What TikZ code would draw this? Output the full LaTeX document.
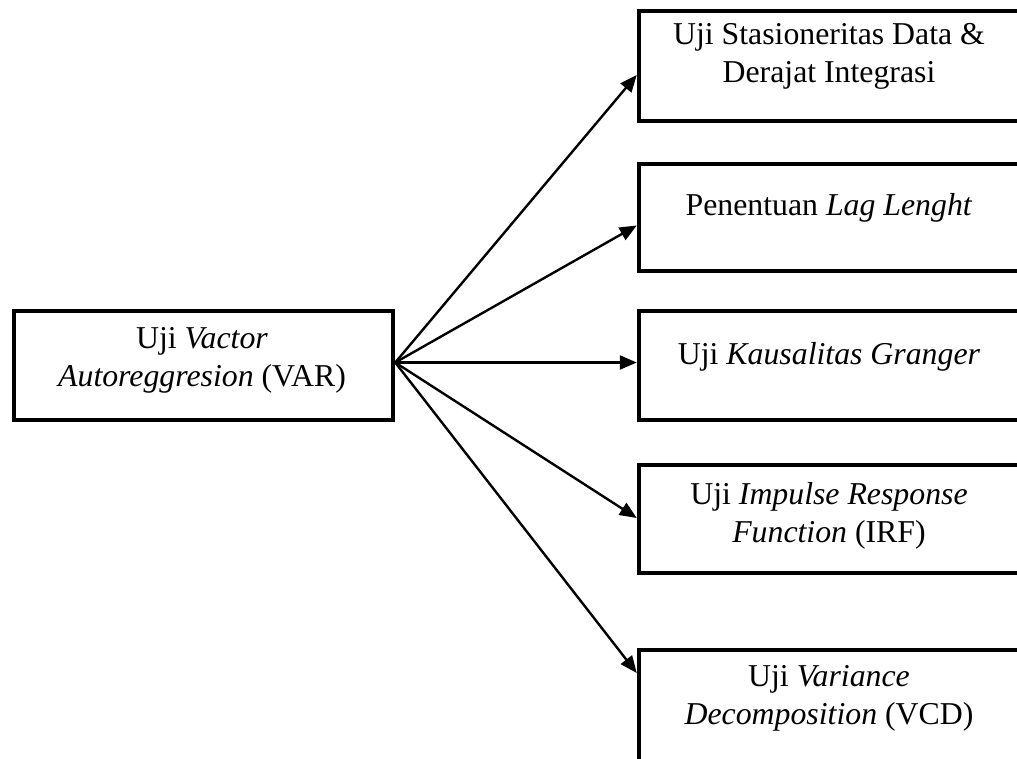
\documentclass[tikz,border=0pt]{standalone}
\usepackage{fontspec}
\setmainfont{Liberation Serif}
\usetikzlibrary{arrows.meta,calc}
\begin{document}
\begin{tikzpicture}[x=1pt,y=-1pt,
  box/.style={draw=black,line width=4.5pt,rectangle,inner sep=0pt,fill=none},
  lbl/.style={font=\fontsize{31.8}{37.5}\selectfont,align=center,inner sep=0pt,anchor=base},
  conn/.style={line width=2.4pt,-{Triangle[length=17pt,width=14pt]}}]
\useasboundingbox (0,0) rectangle (1017,758);
% boxes
\node[box,minimum width=379pt,minimum height=109pt] (v) at (203.5,365.5) {};
\node[box,minimum width=385pt,minimum height=110pt] (b1) at (831.5,66) {};
\node[box,minimum width=385pt,minimum height=107pt] (b2) at (831.5,217.5) {};
\node[box,minimum width=385pt,minimum height=109pt] (b3) at (831.5,365.5) {};
\node[box,minimum width=385pt,minimum height=108pt] (b4) at (831.5,519) {};
\node[box,minimum width=385pt,minimum height=140pt] (b5) at (831.5,720) {};
% labels (base anchor = baseline of last line)
\node[lbl] (tv) at (202,386) {Uji \textit{Vactor}\\\textit{Autoreggresion} (VAR)};
\node[lbl] (t1) at (829,82) {Uji Stasioneritas Data \&\\Derajat Integrasi};
\node[lbl] (t2) at (829,215) {Penentuan \textit{Lag Lenght}};
\node[lbl] (t3) at (829,364) {Uji \textit{Kausalitas Granger}};
\node[lbl] (t4) at (829,542) {Uji \textit{Impulse Response}\\\textit{Function} (IRF)};
\node[lbl] (t5) at (829,724) {Uji \textit{Variance}\\\textit{Decomposition} (VCD)};
% connectors
\coordinate (s) at ($(v.east)+(0,-3)$);
\draw[conn] (s) -- ($(b1.west)+(0,9)$);
\draw[conn] (s) -- ($(b2.west)+(0,8)$);
\draw[conn] (s) -- ($(b3.west)+(0,-3)$);
\draw[conn] (s) -- ($(b4.west)+(0,-1)$);
\draw[conn] (s) -- ($(b5.west)+(0,-47)$);
\end{tikzpicture}
\end{document}
